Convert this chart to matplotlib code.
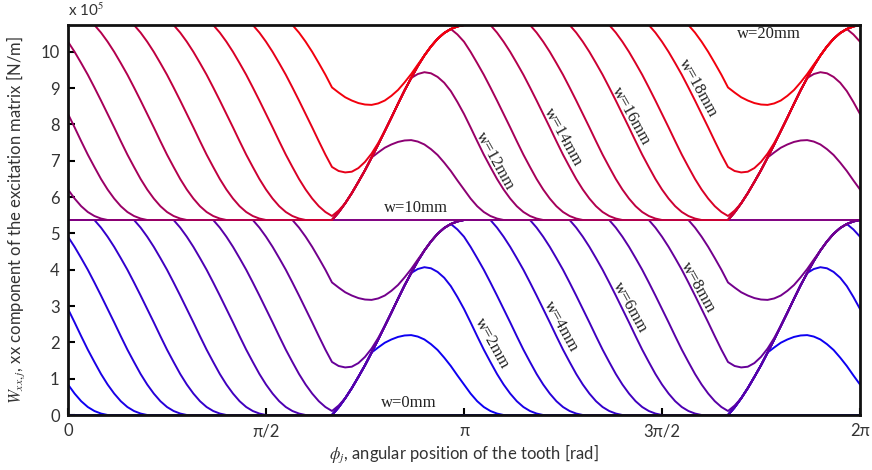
import numpy as np
import matplotlib
matplotlib.use("Agg")
import matplotlib.pyplot as plt

plt.rcParams["mathtext.fontset"] = "stix"

# W_xx,j [x1e5 N/m] over one tooth period (0..pi, step pi/60); the curves repeat every pi
w00 = [0.0] * 60
w10 = [5.37] * 60
w20 = [10.74] * 60

w01 = [0.84, 0.59, 0.38, 0.22, 0.11, 0.04, 0.0, 0.0, 0.0, 0.0,
       0.0, 0.0, 0.0, 0.0, 0.0, 0.0, 0.0, 0.0, 0.0, 0.0,
       0.0, 0.0, 0.0, 0.0, 0.0, 0.0, 0.0, 0.0, 0.0, 0.0,
       0.0, 0.0, 0.0, 0.0, 0.0, 0.0, 0.0, 0.0, 0.0, 0.0,
       0.0, 0.21, 0.46, 0.74, 1.05, 1.37, 1.72, 1.86, 1.99, 2.08,
       2.15, 2.19, 2.20, 2.16, 2.08, 1.95, 1.79, 1.58, 1.35, 1.09]
w02 = [2.92, 2.55, 2.17, 1.80, 1.46, 1.13, 0.84, 0.59, 0.38, 0.22,
       0.11, 0.04, 0.0, 0.0, 0.0, 0.0, 0.0, 0.0, 0.0, 0.0,
       0.0, 0.0, 0.0, 0.0, 0.0, 0.0, 0.0, 0.0, 0.0, 0.0,
       0.0, 0.0, 0.0, 0.0, 0.0, 0.0, 0.0, 0.0, 0.0, 0.0,
       0.0, 0.21, 0.46, 0.74, 1.05, 1.37, 1.72, 2.08, 2.45, 2.82,
       3.20, 3.57, 3.91, 4.02, 4.07, 4.04, 3.94, 3.78, 3.55, 3.25]
w03 = [4.91, 4.63, 4.32, 4.00, 3.65, 3.29, 2.92, 2.55, 2.17, 1.80,
       1.46, 1.13, 0.84, 0.59, 0.38, 0.22, 0.11, 0.04, 0.0, 0.0,
       0.0, 0.0, 0.0, 0.0, 0.0, 0.0, 0.0, 0.0, 0.0, 0.0,
       0.0, 0.0, 0.0, 0.0, 0.0, 0.0, 0.0, 0.0, 0.0, 0.0,
       0.0, 0.21, 0.46, 0.74, 1.05, 1.37, 1.72, 2.08, 2.45, 2.82,
       3.20, 3.57, 3.91, 4.24, 4.53, 4.78, 4.99, 5.15, 5.26, 5.11]
w04 = [5.37, 5.37, 5.37, 5.37, 5.37, 5.16, 4.91, 4.63, 4.32, 4.00,
       3.65, 3.29, 2.92, 2.55, 2.17, 1.80, 1.46, 1.13, 0.84, 0.59,
       0.38, 0.22, 0.11, 0.04, 0.0, 0.0, 0.0, 0.0, 0.0, 0.0,
       0.0, 0.0, 0.0, 0.0, 0.0, 0.0, 0.0, 0.0, 0.0, 0.0,
       0.0, 0.21, 0.46, 0.74, 1.05, 1.37, 1.72, 2.08, 2.45, 2.82,
       3.20, 3.57, 3.91, 4.24, 4.53, 4.78, 4.99, 5.15, 5.26, 5.33]
w05 = [5.37, 5.37, 5.37, 5.37, 5.37, 5.37, 5.37, 5.37, 5.37, 5.37,
       5.37, 5.16, 4.91, 4.63, 4.32, 4.00, 3.65, 3.29, 2.92, 2.55,
       2.17, 1.80, 1.46, 1.13, 0.84, 0.59, 0.38, 0.22, 0.11, 0.04,
       0.0, 0.0, 0.0, 0.0, 0.0, 0.0, 0.0, 0.0, 0.0, 0.0,
       0.0, 0.21, 0.46, 0.74, 1.05, 1.37, 1.72, 2.08, 2.45, 2.82,
       3.20, 3.57, 3.91, 4.24, 4.53, 4.78, 4.99, 5.15, 5.26, 5.33]
w06 = [5.37, 5.37, 5.37, 5.37, 5.37, 5.37, 5.37, 5.37, 5.37, 5.37,
       5.37, 5.37, 5.37, 5.37, 5.37, 5.37, 5.37, 5.16, 4.91, 4.63,
       4.32, 4.00, 3.65, 3.29, 2.92, 2.55, 2.17, 1.80, 1.46, 1.13,
       0.84, 0.59, 0.38, 0.22, 0.11, 0.04, 0.0, 0.0, 0.0, 0.0,
       0.0, 0.21, 0.46, 0.74, 1.05, 1.37, 1.72, 2.08, 2.45, 2.82,
       3.20, 3.57, 3.91, 4.24, 4.53, 4.78, 4.99, 5.15, 5.26, 5.33]
w07 = [5.37, 5.37, 5.37, 5.37, 5.37, 5.37, 5.37, 5.37, 5.37, 5.37,
       5.37, 5.37, 5.37, 5.37, 5.37, 5.37, 5.37, 5.37, 5.37, 5.37,
       5.37, 5.37, 5.37, 5.16, 4.91, 4.63, 4.32, 4.00, 3.65, 3.29,
       2.92, 2.55, 2.17, 1.80, 1.46, 1.13, 0.84, 0.59, 0.38, 0.22,
       0.11, 0.26, 0.46, 0.74, 1.05, 1.37, 1.72, 2.08, 2.45, 2.82,
       3.20, 3.57, 3.91, 4.24, 4.53, 4.78, 4.99, 5.15, 5.26, 5.33]
w08 = [5.37, 5.37, 5.37, 5.37, 5.37, 5.37, 5.37, 5.37, 5.37, 5.37,
       5.37, 5.37, 5.37, 5.37, 5.37, 5.37, 5.37, 5.37, 5.37, 5.37,
       5.37, 5.37, 5.37, 5.37, 5.37, 5.37, 5.37, 5.37, 5.37, 5.16,
       4.91, 4.63, 4.32, 4.00, 3.65, 3.29, 2.92, 2.55, 2.17, 1.80,
       1.46, 1.35, 1.31, 1.33, 1.43, 1.60, 1.83, 2.12, 2.45, 2.82,
       3.20, 3.57, 3.91, 4.24, 4.53, 4.78, 4.99, 5.15, 5.26, 5.33]
w09 = [5.37, 5.37, 5.37, 5.37, 5.37, 5.37, 5.37, 5.37, 5.37, 5.37,
       5.37, 5.37, 5.37, 5.37, 5.37, 5.37, 5.37, 5.37, 5.37, 5.37,
       5.37, 5.37, 5.37, 5.37, 5.37, 5.37, 5.37, 5.37, 5.37, 5.37,
       5.37, 5.37, 5.37, 5.37, 5.37, 5.16, 4.91, 4.63, 4.32, 4.00,
       3.65, 3.51, 3.38, 3.29, 3.22, 3.18, 3.17, 3.21, 3.29, 3.42,
       3.58, 3.79, 4.02, 4.28, 4.53, 4.78, 4.99, 5.15, 5.26, 5.33]

w11 = [6.21, 5.96, 5.75, 5.59, 5.48, 5.41, 5.37, 5.37, 5.37, 5.37,
       5.37, 5.37, 5.37, 5.37, 5.37, 5.37, 5.37, 5.37, 5.37, 5.37,
       5.37, 5.37, 5.37, 5.37, 5.37, 5.37, 5.37, 5.37, 5.37, 5.37,
       5.37, 5.37, 5.37, 5.37, 5.37, 5.37, 5.37, 5.37, 5.37, 5.37,
       5.37, 5.58, 5.83, 6.11, 6.42, 6.74, 7.09, 7.23, 7.36, 7.45,
       7.52, 7.56, 7.57, 7.53, 7.45, 7.32, 7.16, 6.95, 6.72, 6.46]
w12 = [8.29, 7.92, 7.54, 7.17, 6.83, 6.50, 6.21, 5.96, 5.75, 5.59,
       5.48, 5.41, 5.37, 5.37, 5.37, 5.37, 5.37, 5.37, 5.37, 5.37,
       5.37, 5.37, 5.37, 5.37, 5.37, 5.37, 5.37, 5.37, 5.37, 5.37,
       5.37, 5.37, 5.37, 5.37, 5.37, 5.37, 5.37, 5.37, 5.37, 5.37,
       5.37, 5.58, 5.83, 6.11, 6.42, 6.74, 7.09, 7.45, 7.82, 8.19,
       8.57, 8.94, 9.28, 9.39, 9.44, 9.41, 9.31, 9.15, 8.92, 8.62]
w13 = [10.28, 10.00, 9.69, 9.37, 9.02, 8.66, 8.29, 7.92, 7.54, 7.17,
       6.83, 6.50, 6.21, 5.96, 5.75, 5.59, 5.48, 5.41, 5.37, 5.37,
       5.37, 5.37, 5.37, 5.37, 5.37, 5.37, 5.37, 5.37, 5.37, 5.37,
       5.37, 5.37, 5.37, 5.37, 5.37, 5.37, 5.37, 5.37, 5.37, 5.37,
       5.37, 5.58, 5.83, 6.11, 6.42, 6.74, 7.09, 7.45, 7.82, 8.19,
       8.57, 8.94, 9.28, 9.61, 9.90, 10.15, 10.36, 10.52, 10.63, 10.48]
w14 = [10.74, 10.74, 10.74, 10.74, 10.74, 10.53, 10.28, 10.00, 9.69, 9.37,
       9.02, 8.66, 8.29, 7.92, 7.54, 7.17, 6.83, 6.50, 6.21, 5.96,
       5.75, 5.59, 5.48, 5.41, 5.37, 5.37, 5.37, 5.37, 5.37, 5.37,
       5.37, 5.37, 5.37, 5.37, 5.37, 5.37, 5.37, 5.37, 5.37, 5.37,
       5.37, 5.58, 5.83, 6.11, 6.42, 6.74, 7.09, 7.45, 7.82, 8.19,
       8.57, 8.94, 9.28, 9.61, 9.90, 10.15, 10.36, 10.52, 10.63, 10.70]
w15 = [10.74, 10.74, 10.74, 10.74, 10.74, 10.74, 10.74, 10.74, 10.74, 10.74,
       10.74, 10.53, 10.28, 10.00, 9.69, 9.37, 9.02, 8.66, 8.29, 7.92,
       7.54, 7.17, 6.83, 6.50, 6.21, 5.96, 5.75, 5.59, 5.48, 5.41,
       5.37, 5.37, 5.37, 5.37, 5.37, 5.37, 5.37, 5.37, 5.37, 5.37,
       5.37, 5.58, 5.83, 6.11, 6.42, 6.74, 7.09, 7.45, 7.82, 8.19,
       8.57, 8.94, 9.28, 9.61, 9.90, 10.15, 10.36, 10.52, 10.63, 10.70]
w16 = [10.74, 10.74, 10.74, 10.74, 10.74, 10.74, 10.74, 10.74, 10.74, 10.74,
       10.74, 10.74, 10.74, 10.74, 10.74, 10.74, 10.74, 10.53, 10.28, 10.00,
       9.69, 9.37, 9.02, 8.66, 8.29, 7.92, 7.54, 7.17, 6.83, 6.50,
       6.21, 5.96, 5.75, 5.59, 5.48, 5.41, 5.37, 5.37, 5.37, 5.37,
       5.37, 5.58, 5.83, 6.11, 6.42, 6.74, 7.09, 7.45, 7.82, 8.19,
       8.57, 8.94, 9.28, 9.61, 9.90, 10.15, 10.36, 10.52, 10.63, 10.70]
w17 = [10.74, 10.74, 10.74, 10.74, 10.74, 10.74, 10.74, 10.74, 10.74, 10.74,
       10.74, 10.74, 10.74, 10.74, 10.74, 10.74, 10.74, 10.74, 10.74, 10.74,
       10.74, 10.74, 10.74, 10.53, 10.28, 10.00, 9.69, 9.37, 9.02, 8.66,
       8.29, 7.92, 7.54, 7.17, 6.83, 6.50, 6.21, 5.96, 5.75, 5.59,
       5.48, 5.63, 5.83, 6.11, 6.42, 6.74, 7.09, 7.45, 7.82, 8.19,
       8.57, 8.94, 9.28, 9.61, 9.90, 10.15, 10.36, 10.52, 10.63, 10.70]
w18 = [10.74, 10.74, 10.74, 10.74, 10.74, 10.74, 10.74, 10.74, 10.74, 10.74,
       10.74, 10.74, 10.74, 10.74, 10.74, 10.74, 10.74, 10.74, 10.74, 10.74,
       10.74, 10.74, 10.74, 10.74, 10.74, 10.74, 10.74, 10.74, 10.74, 10.53,
       10.28, 10.00, 9.69, 9.37, 9.02, 8.66, 8.29, 7.92, 7.54, 7.17,
       6.83, 6.72, 6.68, 6.70, 6.80, 6.97, 7.20, 7.49, 7.82, 8.19,
       8.57, 8.94, 9.28, 9.61, 9.90, 10.15, 10.36, 10.52, 10.63, 10.70]
w19 = [10.74, 10.74, 10.74, 10.74, 10.74, 10.74, 10.74, 10.74, 10.74, 10.74,
       10.74, 10.74, 10.74, 10.74, 10.74, 10.74, 10.74, 10.74, 10.74, 10.74,
       10.74, 10.74, 10.74, 10.74, 10.74, 10.74, 10.74, 10.74, 10.74, 10.74,
       10.74, 10.74, 10.74, 10.74, 10.74, 10.53, 10.28, 10.00, 9.69, 9.37,
       9.02, 8.88, 8.75, 8.66, 8.59, 8.55, 8.54, 8.58, 8.66, 8.79,
       8.95, 9.16, 9.39, 9.65, 9.90, 10.15, 10.36, 10.52, 10.63, 10.70]

curves = [w00, w01, w02, w03, w04, w05, w06, w07, w08, w09, w10,
          w11, w12, w13, w14, w15, w16, w17, w18, w19, w20]
widths_mm = list(range(21))

# text labels for the even widths: (text, phi, value, angle)
labels = [
    ("w=0mm", 2.70, 0.33, 0), ("w=10mm", 2.76, 5.71, 0), ("w=20mm", 5.56, 10.48, 0),
    ("w=2mm", 3.36, 1.96, -61), ("w=4mm", 3.91, 2.45, -61),
    ("w=6mm", 4.46, 2.95, -61), ("w=8mm", 5.00, 3.50, -61),
    ("w=12mm", 3.39, 7.00, -61), ("w=14mm", 3.93, 7.64, -61),
    ("w=16mm", 4.47, 8.22, -61), ("w=18mm", 5.00, 8.99, -61),
]

phi = np.linspace(0, 2 * np.pi, 121)

fig = plt.figure(figsize=(8.72, 4.70), dpi=100)
ax = fig.add_axes([68 / 872, 55 / 470, 792 / 872, 390 / 470])

for w, vals in zip(widths_mm, curves):
    assert len(vals) == 60
    y = np.append(np.tile(vals, 2), vals[0])
    color = (w / 20, 0.0, 1 - w / 20)
    ax.plot(phi, y, color=color, lw=1.4, solid_joinstyle="round")

for text, x, y, ang in labels:
    ax.text(x, y, text, rotation=ang, rotation_mode="anchor", ha="center",
            va="center", fontsize=12, family="Liberation Serif", color="#222222")

ax.set_xlim(0, 2 * np.pi)
ax.set_ylim(0, 10.74)
ax.set_xticks([0, np.pi / 2, np.pi, 3 * np.pi / 2, 2 * np.pi])
ax.set_xticklabels(["0", "π/2", "π", "3π/2", "2π"])
ax.set_yticks(range(11))

tick_font = "Lato"
for lab in ax.get_xticklabels() + ax.get_yticklabels():
    lab.set_family(tick_font)
    lab.set_fontsize(12)
    lab.set_color("#333333")
ax.tick_params(direction="in", length=5, width=1.5, pad=6)
for sp in ax.spines.values():
    sp.set_linewidth(2)
    sp.set_color("#111111")
    sp.set_zorder(5)

ax.set_xlabel(r"$\phi_j$, angular position of the tooth [rad]", family=tick_font,
              fontsize=12, color="#333333", labelpad=2)
ax.set_ylabel(r"$W_{xx,j}$, xx component of the excitation matrix [N/m]",
              family=tick_font, fontsize=12, color="#333333", labelpad=10)
ax.text(0, 1.015, r"x 10$^5$", transform=ax.transAxes, family=tick_font,
        fontsize=11, color="#333333", va="bottom")

fig.savefig("out.png", dpi=100)
